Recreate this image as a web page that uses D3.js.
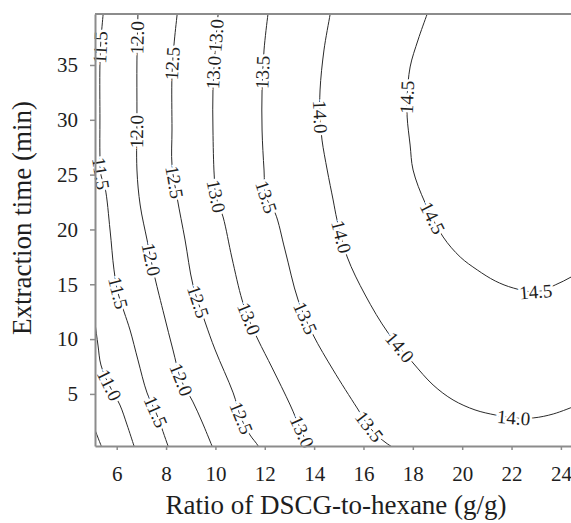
<!DOCTYPE html>
<html>
<head>
<meta charset="utf-8">
<script src="https://cdn.jsdelivr.net/npm/d3@7"></script>
<style>
  body { margin: 0; background: #fff; }
  svg { display: block; }
  svg text { font-family: "Liberation Serif", "DejaVu Serif", serif; }
</style>
</head>
<body>
<div id="chart"></div>
<script>
// contour lines, [ratio g/g, time min]
var c105 = [[5.00,2.40],[5.12,1.72],[5.26,0.90],[5.40,0.10]];
var c110 = [[5.04,12.8],[5.12,11.47],[5.24,9.46],[5.36,7.64],[5.69,5.82],[6.13,3.99],[6.42,2.17],[6.70,0.26],[6.78,-0.3]];
var c115 = [[5.48,40.5],[5.45,39.65],[5.36,37.28],[5.32,35.00],[5.32,29.98],[5.32,26.79],[5.36,24.97],[5.53,23.78],
            [5.73,19.95],[5.89,16.31],[6.05,14.21],[6.30,12.47],[6.54,10.83],[6.86,8.10],[7.23,5.09],[7.63,3.08],[8.08,0.26],[8.20,-0.4]];
var c120 = [[6.87,40.5],[6.86,39.65],[6.82,35.45],[6.82,30.44],[6.82,25.42],[6.95,22.23],[7.23,19.04],[7.39,17.22],
            [7.55,15.57],[7.92,12.20],[8.28,9.01],[8.61,6.27],[9.09,4.27],[9.46,2.44],[9.86,0.26],[9.96,-0.3]];
var c125 = [[8.49,40.5],[8.45,39.65],[8.32,36.82],[8.24,34.09],[8.24,29.07],[8.24,25.88],[8.45,22.87],[8.77,19.04],
            [9.09,14.94],[9.58,11.56],[9.99,9.01],[10.72,5.09],[11.04,2.81],[11.40,1.26],[11.73,0.26],[11.85,-0.4]];
var c130 = [[10.15,40.5],[10.11,39.65],[9.99,36.37],[9.90,32.72],[9.90,29.07],[9.95,24.97],[10.03,22.96],[10.31,21.14],
            [10.67,17.40],[11.08,13.57],[11.40,11.56],[11.73,9.92],[12.30,7.37],[13.03,3.99],[13.43,1.90],[13.76,0.26],[13.90,-0.5]];
var c135 = [[12.18,40.5],[12.13,39.65],[11.97,36.37],[11.89,32.72],[11.89,29.07],[11.97,25.42],[12.05,22.96],[12.42,21.50],
            [12.82,18.13],[13.35,13.57],[13.96,10.38],[14.77,7.19],[15.74,3.72],[16.27,1.90],[16.76,0.80],[17.16,0.16],[17.50,-0.3]];
var c140 = [[14.71,40.5],[14.65,39.65],[14.40,36.37],[14.24,32.72],[14.24,30.25],[14.32,28.15],[14.53,25.42],[14.77,22.69],
            [14.93,20.86],[15.34,17.49],[16.07,14.02],[17.00,10.56],[18.01,7.82],[18.82,5.82],[19.63,4.45],[20.52,3.54],
            [21.34,3.08],[22.07,2.81],[22.88,2.81],[23.69,3.17],[24.58,3.90]];
var c145 = [[18.71,40.5],[18.58,39.65],[18.21,37.28],[17.89,34.82],[17.77,32.08],[17.77,30.25],[17.89,27.70],[18.01,25.42],
            [18.50,22.41],[19.23,19.31],[19.92,17.49],[20.61,16.31],[21.34,15.30],[22.07,14.66],[23.00,14.30],[23.77,14.94],
            [24.42,15.67],[25.00,16.49]];

// where the figure puts the inline labels
var lab105 = [];
var lab110 = [[5.69,5.82]];
var lab115 = [[5.38,36.55],[5.36,25.06],[6.05,14.21],[7.43,3.26]];
var lab120 = [[6.86,37.46],[6.82,28.88],[7.19,17.22],[8.61,6.27]];
var lab125 = [[8.28,35.18],[8.24,24.24],[9.18,13.29],[11.00,2.81]];
var lab130 = [[9.90,37.73],[9.90,34.36],[9.99,22.96],[11.24,11.74],[13.43,1.45]];
var lab135 = [[11.89,34.36],[12.05,22.96],[13.47,11.74],[16.19,1.90]];
var lab140 = [[14.16,30.25],[14.93,19.22],[17.36,9.01],[22.07,2.81]];
var lab145 = [[17.81,32.08],[18.66,20.86],[23.00,14.21]];

var levels = [10.5, 11.0, 11.5, 12.0, 12.5, 13.0, 13.5, 14.0, 14.5];
var lines = [c105, c110, c115, c120, c125, c130, c135, c140, c145];
var labels = [lab105, lab110, lab115, lab120, lab125, lab130, lab135, lab140, lab145];

var xTicks = [6, 8, 10, 12, 14, 16, 18, 20, 22, 24];
var yTicks = [5, 10, 15, 20, 25, 30, 35];
var xDomain = [5.12, 24.45];
var yDomain = [0.25, 39.65];
var xTitle = "Ratio of DSCG-to-hexane (g/g)";
var yTitle = "Extraction time (min)";

var W = 571, H = 523;
var margin = {top: 14, left: 95, bottom: 77};

var x = d3.scaleLinear().domain(xDomain).range([margin.left, W + 1]);
var y = d3.scaleLinear().domain(yDomain).range([H - margin.bottom, margin.top]);

var svg = d3.select("#chart").append("svg")
  .attr("width", W)
  .attr("height", H);

svg.append("clipPath").attr("id", "plotclip")
  .append("rect")
  .attr("x", x.range()[0]).attr("y", y.range()[1])
  .attr("width", x.range()[1] - x.range()[0])
  .attr("height", y.range()[0] - y.range()[1]);

var line = d3.line()
  .x(function(d) { return x(d[0]); })
  .y(function(d) { return y(d[1]); })
  .curve(d3.curveCatmullRom.alpha(0.5));

var plot = svg.append("g").attr("clip-path", "url(#plotclip)");

var paths = plot.selectAll("path.contour")
  .data(lines)
  .enter().append("path")
  .attr("class", "contour")
  .attr("d", line)
  .attr("fill", "none")
  .attr("stroke", "#2a2a2a")
  .attr("stroke-width", 1);

// labels: snap each to its line, rotate along it (kept readable like clabel does)
var lg = svg.append("g");
paths.each(function(d, i) {
  var node = this;
  var len = node.getTotalLength();
  var samples = [];
  for (var s = 0; s <= len; s += 1) {
    var p = node.getPointAtLength(s);
    samples.push({s: s, x: p.x, y: p.y});
  }
  labels[i].forEach(function(l) {
    var px = x(l[0]), py = y(l[1]);
    var best = samples[0], bd = Infinity;
    samples.forEach(function(p) {
      var dd = (p.x - px) * (p.x - px) + (p.y - py) * (p.y - py);
      if (dd < bd) { bd = dd; best = p; }
    });
    var a = node.getPointAtLength(Math.max(0, best.s - 4));
    var b = node.getPointAtLength(Math.min(len, best.s + 4));
    var ang = Math.atan2(b.y - a.y, b.x - a.x) * 180 / Math.PI;
    if (ang > 90) ang -= 180;
    if (ang <= -90) ang += 180;
    lg.append("text")
      .attr("transform", "translate(" + best.x + "," + best.y + ") rotate(" + ang + ")")
      .attr("text-anchor", "middle")
      .attr("dy", "0.33em")
      .attr("font-size", 19)
      .attr("fill", "#1e1e1e")
      .attr("stroke", "#fff")
      .attr("stroke-width", 5)
      .attr("paint-order", "stroke")
      .text(levels[i].toFixed(1));
  });
});

// frame + axes
var axisColor = "#8c8c8c";
svg.append("line")
  .attr("x1", margin.left).attr("x2", W + 1)
  .attr("y1", y.range()[1]).attr("y2", y.range()[1])
  .attr("stroke", axisColor).attr("stroke-width", 2);

var gx = svg.append("g")
  .attr("transform", "translate(0," + y.range()[0] + ")")
  .call(d3.axisBottom(x).tickValues(xTicks).tickSize(4).tickPadding(16).tickSizeOuter(0));
var gy = svg.append("g")
  .attr("transform", "translate(" + margin.left + ",0)")
  .call(d3.axisLeft(y).tickValues(yTicks).tickSize(5).tickPadding(12).tickSizeOuter(0));

[gx, gy].forEach(function(g) {
  g.select(".domain").attr("stroke", axisColor).attr("stroke-width", 2);
  g.selectAll(".tick line").attr("stroke", axisColor).attr("stroke-width", 1.5);
  g.selectAll(".tick text")
    .attr("fill", "#1e1e1e")
    .attr("font-size", 21);
});

svg.append("text")
  .attr("x", 336).attr("y", 514)
  .attr("text-anchor", "middle")
  .attr("font-size", 27)
  .attr("fill", "#1e1e1e")
  .text(xTitle);

svg.append("text")
  .attr("transform", "translate(31,218) rotate(-90)")
  .attr("text-anchor", "middle")
  .attr("font-size", 27)
  .attr("fill", "#1e1e1e")
  .text(yTitle);
</script>
</body>
</html>
